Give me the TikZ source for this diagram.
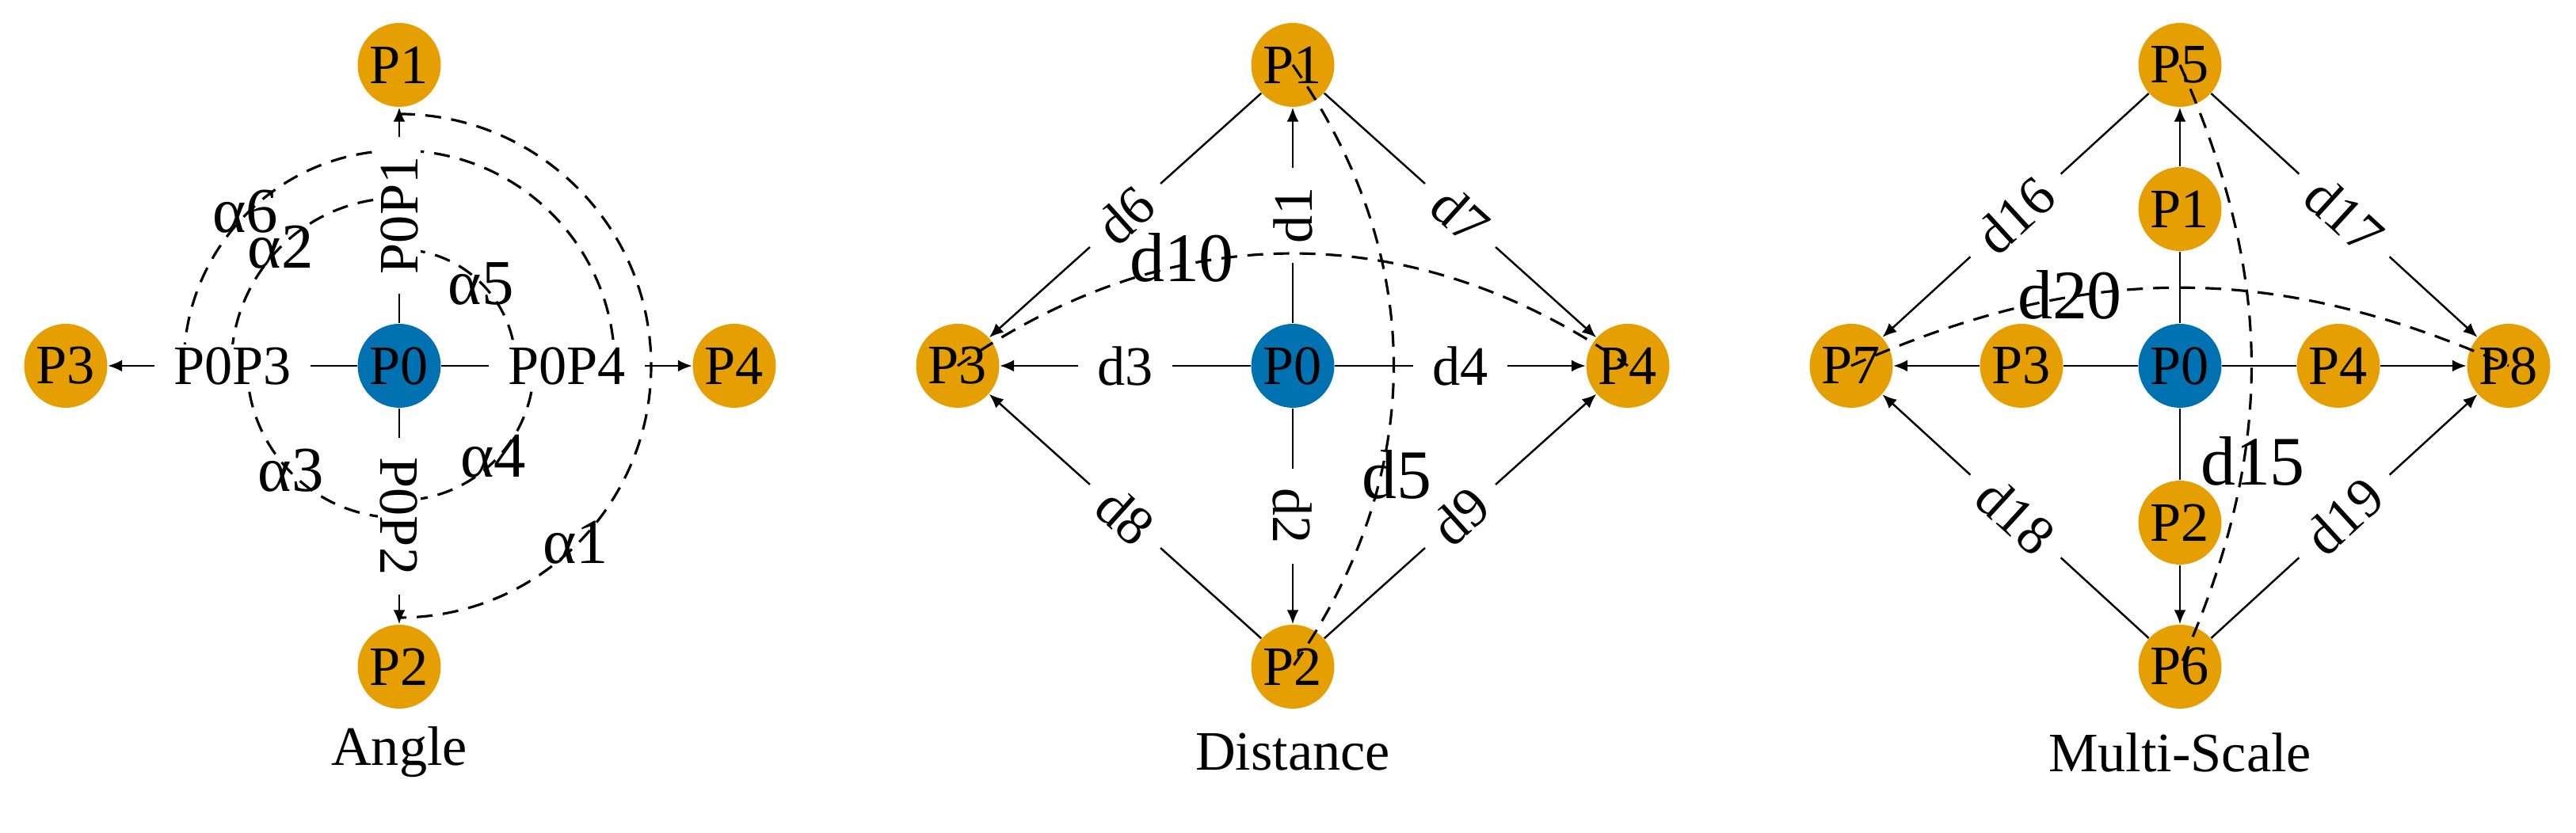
\documentclass[tikz,border=0pt]{standalone}
\usepackage{fontspec}
\setmainfont{Liberation Serif}
\usetikzlibrary{arrows.meta,shapes.geometric}
\definecolor{porange}{HTML}{E69F00}
\definecolor{pblue}{HTML}{0072B2}
\begin{document}
\begin{tikzpicture}[p node/.style={ellipse, fill=porange, minimum width=0.98cm, minimum height=1.06cm, inner sep=0pt, font=\fontsize{20}{20}\selectfont}, c node/.style={p node, fill=pblue}, lbl/.style={fill=white, inner xsep=7pt, inner ysep=1pt, sloped, font=\fontsize{20}{20}\selectfont}, arr/.style={-{Latex[length=1.8mm,width=1.5mm]}, line width=0.7pt}, dline/.style={line width=0.9pt, dash pattern=on 2mm off 1.3mm}, big/.style={font=\fontsize{25}{25}\selectfont}, ang/.style={font=\fontsize{23}{23}\selectfont}]
\useasboundingbox (0,0) rectangle (32.52,10.52);

% angle
\node[c node] (a0) at (5.04,5.9) {P0};
\node[p node] (a1) at (5.04,9.7) {P1};
\node[p node] (a2) at (5.04,2.1) {P2};
\node[p node] (a3) at (0.83,5.9) {P3};
\node[p node] (a4) at (9.27,5.9) {P4};

% angle arcs
\draw[dline] ([shift={(90:3.18)}]a0.center) arc[start angle=90, end angle=-90, radius=3.18];
\draw[dline] ([shift={(0:2.72)}]a0.center) arc[start angle=0, end angle=180, radius=2.72];
\draw[dline] ([shift={(90:2.12)}]a0.center) arc[start angle=90, end angle=180, radius=2.12];
\draw[dline] ([shift={(0:1.47)}]a0.center) arc[start angle=0, end angle=90, radius=1.47];
\draw[dline] ([shift={(0:1.70)}]a0.center) arc[start angle=0, end angle=-90, radius=1.70];
\draw[dline] ([shift={(180:1.92)}]a0.center) arc[start angle=180, end angle=270, radius=1.92];

\node[ang] (al1) at ([shift={(-45:3.15)}]a0) {α1};
\node[ang] (al6) at ([shift={(135:2.75)}]a0) {α6};
\node[ang] (al2) at ([shift={(135:2.12)}]a0) {α2};
\node[ang] (al5) at ([shift={(45:1.46)}]a0) {α5};
\node[ang] (al4) at ([shift={(-44:1.65)}]a0) {α4};
\node[ang] (al3) at ([shift={(-136:1.90)}]a0) {α3};

\path
(a0) [arr] edge node [lbl] {P0P1} (a1)
(a0) [arr] edge node [lbl] {P0P2} (a2)
(a0) [arr] edge node [lbl] {P0P3} (a3)
(a0) [arr] edge node [lbl] {P0P4} (a4)
;

% distance
\node[c node] (b0) at (16.32,5.9) {P0};
\node[p node] (b1) at (16.32,9.7) {P1};
\node[p node] (b2) at (16.32,2.1) {P2};
\node[p node] (b3) at (12.09,5.9) {P3};
\node[p node] (b4) at (20.55,5.9) {P4};

\path
(b0) [arr] edge node [lbl] {d1} (b1)
(b0) [arr] edge node [lbl] {d2} (b2)
(b0) [arr] edge node [lbl] {d3} (b3)
(b0) [arr] edge node [lbl] {d4} (b4)
(b1) [arr] edge node [lbl] {d6} (b3)
(b1) [arr] edge node [lbl] {d7} (b4)
(b2) [arr] edge node [lbl] {d8} (b3)
(b2) [arr] edge node [lbl] {d9} (b4)
;
\draw[dline] (b1.center) to[bend left=35] (b2.center);
\draw[dline] (b3.center) to[bend left=35] (b4.center);
\node[big] (d5) at ([shift={(1.31,-1.37)}]b0) {d5};
\node[big] (d10) at ([shift={(-1.40,1.37)}]b0) {d10};

% multi-scale
\node[c node] (c0) at (27.52,5.9) {P0};
\node[p node] (c1) at (27.52,7.88) {P1};
\node[p node] (c2) at (27.52,3.92) {P2};
\node[p node] (c3) at (25.52,5.9) {P3};
\node[p node] (c4) at (29.52,5.9) {P4};
\node[p node] (c5) at (27.52,9.7) {P5};
\node[p node] (c6) at (27.52,2.1) {P6};
\node[p node] (c7) at (23.37,5.9) {P7};
\node[p node] (c8) at (31.67,5.9) {P8};

\path
(c0) [-, line width=0.7pt] edge (c1)
(c0) [-, line width=0.7pt] edge (c2)
(c0) [-, line width=0.7pt] edge (c3)
(c0) [-, line width=0.7pt] edge (c4)
(c1) [arr] edge (c5)
(c2) [arr] edge (c6)
(c3) [arr] edge (c7)
(c4) [arr] edge (c8)
(c5) [arr] edge node [lbl] {d16} (c7)
(c5) [arr] edge node [lbl] {d17} (c8)
(c6) [arr] edge node [lbl] {d18} (c7)
(c6) [arr] edge node [lbl] {d19} (c8)
;
\draw[dline] (c5.center) to[bend left=24] (c6.center);
\draw[dline] (c7.center) to[bend left=24] (c8.center);
\node[big] (d15) at ([shift={(0.92,-1.2)}]c0) {d15};
\node[big] (d20) at ([shift={(-1.39,0.9)}]c0) {d20};

% captions
\node[font=\fontsize{20}{20}\selectfont] (capa) at (5.04,1.02) {Angle};
\node[font=\fontsize{20}{20}\selectfont] (capb) at (16.32,1.02) {Distance};
\node[font=\fontsize{20}{20}\selectfont] (capc) at (27.52,1.02) {Multi-Scale};
\end{tikzpicture}
\end{document}
